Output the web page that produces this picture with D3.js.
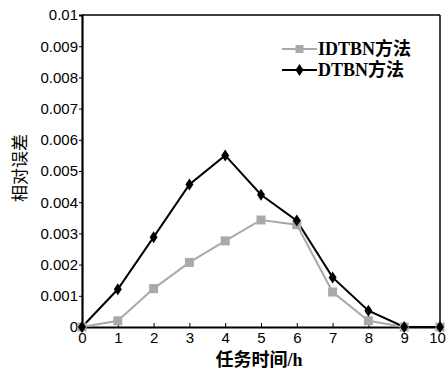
<!DOCTYPE html>
<html>
<head>
<meta charset="utf-8">
<script src="https://cdn.jsdelivr.net/npm/d3@7"></script>
<style>
  body { margin: 0; background: #fff; }
</style>
</head>
<body>
<div id="chart"></div>
<script>
// data
var hours = [0, 1, 2, 3, 4, 5, 6, 7, 8, 9, 10];
var idtbn = [0, 0.0002, 0.00123, 0.00207, 0.00276, 0.00343, 0.00328, 0.00112, 0.0002, 0, 0];
var dtbn  = [0, 0.00121, 0.00288, 0.00457, 0.0055, 0.00424, 0.00341, 0.00159, 0.00052, 0, 0];
var yTicks = [0, 0.001, 0.002, 0.003, 0.004, 0.005, 0.006, 0.007, 0.008, 0.009, 0.01];
var yTickLabels = ["0", "0.001", "0.002", "0.003", "0.004", "0.005", "0.006", "0.007", "0.008", "0.009", "0.01"];
var seriesNames = ["IDTBN方法", "DTBN方法"];

var W = 447, H = 369;
var margin = {top: 15, right: 7, bottom: 42, left: 82};
var w = W - margin.left - margin.right;
var h = H - margin.top - margin.bottom;

var svg = d3.select("#chart").append("svg")
  .attr("width", W).attr("height", H);
var g = svg.append("g")
  .attr("transform", "translate(" + margin.left + "," + margin.top + ")");

var x = d3.scaleLinear().domain([0, 10]).range([0, w]);
var y = d3.scaleLinear().domain([0, 0.01]).range([h, 0]);

// frame (top + right thin)
g.append("line").attr("x1", 0).attr("x2", w).attr("y1", 0).attr("y2", 0)
  .attr("stroke", "#000").attr("stroke-width", 1.3);
g.append("line").attr("x1", w).attr("x2", w).attr("y1", 0).attr("y2", h)
  .attr("stroke", "#000").attr("stroke-width", 1.5);

// axes
var xAxis = g.append("g").attr("transform", "translate(0," + h + ")")
  .call(d3.axisBottom(x).tickValues(hours).tickSize(-4).tickPadding(5).tickFormat(d3.format("d")));
var yAxis = g.append("g")
  .call(d3.axisLeft(y).tickValues(yTicks).tickSize(3).tickPadding(1)
    .tickFormat(function(d, i){ return yTickLabels[i]; }));

[xAxis, yAxis].forEach(function(a){
  a.select(".domain").attr("stroke", "#000").attr("stroke-width", 2.2);
  a.selectAll(".tick line").attr("stroke", "#000").attr("stroke-width", 1);
  a.selectAll(".tick text").attr("fill", "#000")
    .style("font-family", "'Liberation Sans', Arial, sans-serif").style("font-size", "15px");
});
xAxis.selectAll(".tick text").attr("dy", "0.71em");
// last label sits against the page edge
xAxis.selectAll(".tick text").filter(function(d){ return d === 10; }).attr("dx", -3);

// lines
var line = d3.line()
  .x(function(d, i){ return x(hours[i]); })
  .y(function(d){ return y(d); });

g.append("path").datum(idtbn)
  .attr("d", line).attr("fill", "none")
  .attr("stroke", "#a9a9a9").attr("stroke-width", 2);
g.append("path").datum(dtbn)
  .attr("d", line).attr("fill", "none")
  .attr("stroke", "#000").attr("stroke-width", 2);

// markers
g.selectAll(".sq").data(idtbn).enter().append("rect")
  .attr("class", "sq")
  .attr("x", function(d, i){ return x(hours[i]) - 4.5; })
  .attr("y", function(d){ return y(d) - 4.5; })
  .attr("width", 9).attr("height", 9)
  .attr("fill", "#a9a9a9");

var diamond = "M0,-6L4,0L0,6L-4,0Z";
g.selectAll(".dm").data(dtbn).enter().append("path")
  .attr("class", "dm")
  .attr("d", diamond)
  .attr("transform", function(d, i){ return "translate(" + x(hours[i]) + "," + y(d) + ")"; })
  .attr("fill", "#000");

// legend
var legend = g.append("g").attr("transform", "translate(200,34)");
legend.append("line").attr("x1", 0).attr("x2", 35).attr("y1", 0).attr("y2", 0)
  .attr("stroke", "#a9a9a9").attr("stroke-width", 2);
legend.append("rect").attr("x", 13.5).attr("y", -4).attr("width", 8).attr("height", 8)
  .attr("fill", "#a9a9a9");
legend.append("line").attr("x1", 0).attr("x2", 35).attr("y1", 21).attr("y2", 21)
  .attr("stroke", "#000").attr("stroke-width", 2);
legend.append("path").attr("d", diamond)
  .attr("transform", "translate(17.5,21)").attr("fill", "#000");
legend.selectAll("text").data(seriesNames).enter().append("text")
  .attr("x", 36)
  .attr("y", function(d, i){ return i * 21 + 6; })
  .text(function(d){ return d; })
  .style("font-family", "'Liberation Serif', 'Noto Sans CJK SC', serif")
  .style("font-size", "18px")
  .style("font-weight", "600")
  .attr("fill", "#000");

// axis titles
svg.append("text")
  .attr("x", margin.left + w / 2 - 2)
  .attr("y", 366)
  .attr("text-anchor", "middle")
  .style("font-family", "'Liberation Serif', 'Noto Sans CJK SC', serif")
  .style("font-size", "18px")
  .style("font-weight", "bold")
  .text("任务时间/h");

svg.append("text")
  .attr("transform", "translate(26,168) rotate(-90)")
  .attr("text-anchor", "middle")
  .style("font-family", "'Noto Sans CJK SC', sans-serif")
  .style("font-size", "17px")
  .text("相对误差");
</script>
</body>
</html>
